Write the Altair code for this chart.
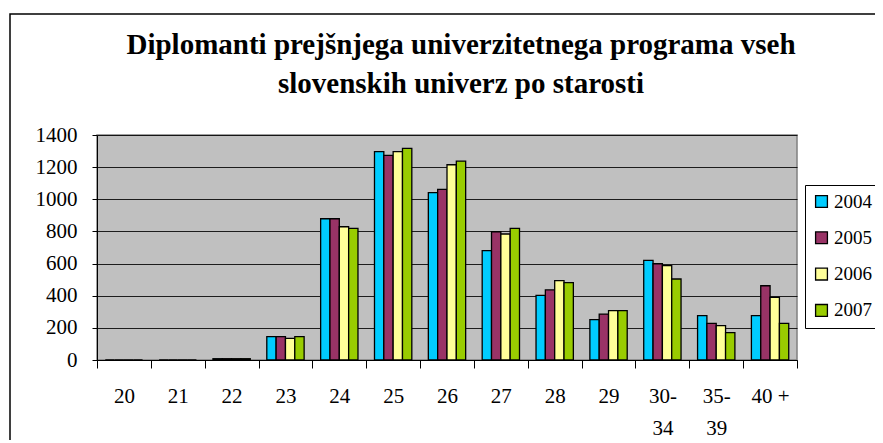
import altair as alt
import pandas as pd

ages = ["20", "21", "22", "23", "24", "25", "26", "27", "28", "29", "30-34", "35-39", "40 +"]
years = ["2004", "2005", "2006", "2007"]
v2004 = [0, 0, 8, 145, 879, 1296, 1041, 680, 402, 251, 620, 276, 276]
v2005 = [0, 0, 8, 145, 879, 1273, 1062, 798, 436, 286, 599, 228, 462]
v2006 = [0, 0, 8, 135, 829, 1296, 1215, 784, 494, 307, 587, 214, 390]
v2007 = [0, 0, 8, 145, 819, 1317, 1238, 819, 481, 307, 504, 170, 228]
colors = ["#00CCFF", "#993366", "#FFFF99", "#99CC00"]
y_ticks = [0, 200, 400, 600, 800, 1000, 1200, 1400]

rows = []
for yr, vals in zip(years, [v2004, v2005, v2006, v2007]):
    for a, v in zip(ages, vals):
        rows.append({"age": a, "year": yr, "value": v})
df = pd.DataFrame(rows)

FONT = "Liberation Serif, Times New Roman, serif"

bars = alt.Chart(df).mark_bar(stroke="black", strokeWidth=1.3).encode(
    x=alt.X("age:N", sort=ages,
            scale=alt.Scale(paddingInner=0, paddingOuter=0),
            axis=alt.Axis(title=None, labelAngle=0, tickBand="extent",
                          labelFont=FONT, labelFontSize=21, labelColor="black",
                          tickColor="black", tickSize=8, domainColor="black",
                          labelPadding=17, labelLineHeight=32, labelBaseline="top",
                          labelExpr="datum.value == '30-34' ? ['30-', '34'] : datum.value == '35-39' ? ['35-', '39'] : datum.label")),
    xOffset=alt.XOffset("year:N", sort=years,
                        scale=alt.Scale(paddingOuter=0.885, paddingInner=0)),
    y=alt.Y("value:Q", scale=alt.Scale(domain=[0, 1400], nice=False),
            axis=alt.Axis(title=None, values=y_ticks, format="d", grid=True, gridColor="black",
                          gridOpacity=0.85, labelFont=FONT, labelFontSize=21,
                          labelColor="black", tickColor="black", tickSize=5,
                          domainColor="black", labelPadding=15)),
    color=alt.Color("year:N", sort=years,
                    scale=alt.Scale(domain=years, range=colors),
                    legend=alt.Legend(title=None, orient="none", legendX=708, legendY=50,
                                      symbolType="square", symbolSize=140,
                                      symbolStrokeColor="black", symbolStrokeWidth=1.3,
                                      labelFont=FONT, labelFontSize=19, labelColor="black",
                                      labelOffset=3, rowPadding=16.3, strokeColor="black",
                                      padding=7, fillColor="white")),
)

frame = alt.Chart(pd.DataFrame({"a": [0]})).mark_rect(
    fill=None, stroke="black", strokeWidth=1.5
).encode(x=alt.value(-87), y=alt.value(-121), x2=alt.value(1000), y2=alt.value(1000))

chart = alt.layer(frame, bars).properties(
    width=700, height=225,
    autosize=alt.AutoSizeParams(type="none"),
    padding={"left": 89, "top": 127, "right": 78, "bottom": 80},
    title=alt.TitleParams(
        text=["Diplomanti prejšnjega univerzitetnega programa vseh",
              "slovenskih univerz po starosti"],
        font=FONT, fontSize=29, fontWeight="bold", color="black", frame="group",
        anchor="middle", lineHeight=39, offset=-86, dx=14),
).configure_view(fill="#C0C0C0", stroke="#808080", strokeWidth=1.5)

chart.save("out.html", embed_options={"renderer": "svg", "actions": False})
